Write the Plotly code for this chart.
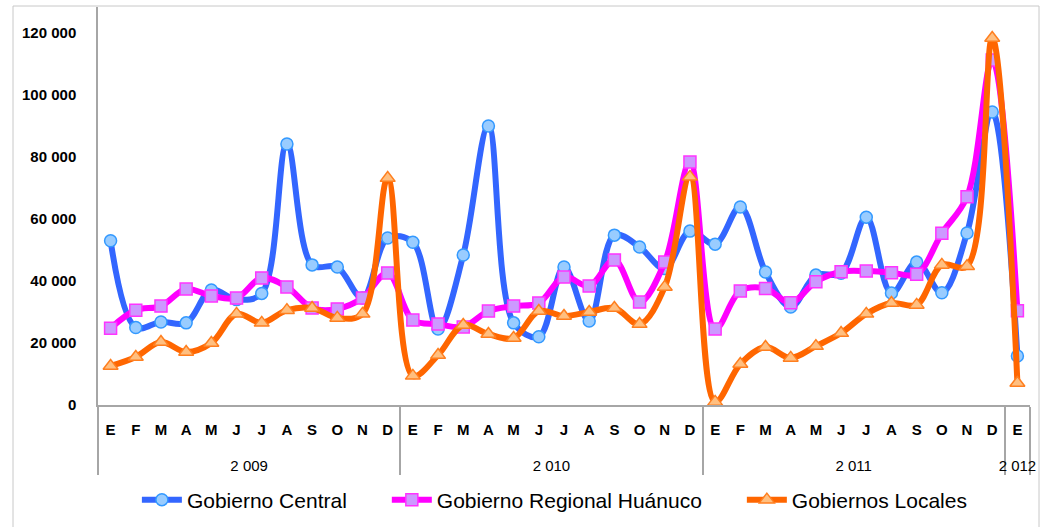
import plotly.graph_objects as go

years = ["2 009"] * 12 + ["2 010"] * 12 + ["2 011"] * 12 + ["2 012"]
months = ["E", "F", "M", "A", "M", "J", "J", "A", "S", "O", "N", "D",
          "E", "F", "M", "A", "M", "J", "J", "A", "S", "O", "N", "D",
          "E", "F", "M", "A", "M", "J", "J", "A", "S", "O", "N", "D",
          "E"]

gobierno_central = [53000, 25000, 26800, 26500, 37100, 34000, 36000, 84200, 45200, 44500, 34500, 53900,
                    52500, 24500, 48400, 90000, 26500, 22000, 44500, 27100, 54800, 51000, 44000, 56100,
                    51900, 63900, 42900, 31600, 41900, 42500, 60600, 36100, 46100, 36200, 55500, 94500,
                    15800]
gobierno_regional = [24800, 30600, 31900, 37400, 35200, 34500, 41000, 38100, 31300, 31000, 34500, 42600,
                     27400, 26100, 25200, 30300, 31900, 32900, 41300, 38400, 46800, 33200, 46100, 78400,
                     24500, 36800, 37600, 33000, 39800, 43000, 43200, 42700, 42200, 55400, 67200, 111300,
                     30400]
gobiernos_locales = [12600, 15500, 20300, 17100, 20000, 29400, 26500, 30600, 31300, 28100, 29400, 73200,
                     9400, 16100, 25800, 22900, 21600, 30300, 28700, 30000, 31300, 26100, 38100, 73600,
                     1000, 13200, 18700, 15200, 19000, 23200, 29400, 32900, 32300, 45200, 44800, 118400,
                     7100]

W, H = 1047, 527
ML, MR, MT, MB = 98, 17, 7, 122
YMAX = 128400

# make repeated month letters unique within a year (zero-width spaces, invisible)
month_keys = []
seen = {}
for yv, m in zip(years, months):
    k = seen.get((yv, m), 0)
    seen[(yv, m)] = k + 1
    month_keys.append('<span style="font-size:15px"><b>%s</b></span>%s' % (m, "\u200b" * k))
year_keys = ['<br><span style="font-size:15px">%s</span>' % yv for yv in years]
x = [year_keys, month_keys]

series = [
    ("Gobierno Central", gobierno_central, "#3366FF", "#99CCFF", "#3399FF", "circle", 12),
    ("Gobierno Regional Huánuco", gobierno_regional, "#FF00FF", "#CC99FF", "#FF33FF", "square", 12),
    ("Gobiernos Locales", gobiernos_locales, "#FF6600", "#FFBF80", "#FF7F1F", "triangle-up", 13),
]

pad = "\u00a0" * 6
fig = go.Figure()
for name, vals, lc, fc, oc, sym, sz in series:
    fig.add_trace(go.Scatter(
        x=x, y=vals, name=name + pad, mode="lines+markers",
        line=dict(color=lc, width=6, shape="spline", smoothing=1.0),
        marker=dict(symbol=sym, size=sz, color=fc, line=dict(color=oc, width=1.5)),
        cliponaxis=False,
    ))

pw = W - ML - MR
ph = H - MT - MB
fig.add_shape(type="rect", xref="paper", yref="paper",
              x0=(13 - ML) / pw, x1=(1039 - ML) / pw,
              y0=(H - MB - 540) / ph, y1=(H - MB - 6) / ph,
              line=dict(color="#C8C8C8", width=1), fillcolor="rgba(0,0,0,0)", layer="below")

fig.update_layout(
    width=W, height=H,
    margin=dict(l=ML, r=MR, t=MT, b=MB, autoexpand=False),
    paper_bgcolor="white", plot_bgcolor="white",
    separators=", ",
    font=dict(family="Liberation Sans, Arial, sans-serif", color="black"),
    showlegend=True,
    legend=dict(orientation="h", x=0.509, xanchor="center", y=(H - MB - 500) / ph, yanchor="middle",
                font=dict(size=21, family="Liberation Sans, Arial, sans-serif", color="black"),
                itemwidth=40, bgcolor="rgba(0,0,0,0)"),
    xaxis=dict(type="multicategory", showline=True, linecolor="#A6A6A6", linewidth=1.5,
               showgrid=False, zeroline=False, ticks="", showdividers=True,
               dividercolor="#A6A6A6", dividerwidth=1.5, automargin=False,
               ticklabelstandoff=7,
               tickfont=dict(size=18, color="black"), range=[-0.5, 36.5]),
    yaxis=dict(range=[0, YMAX], tickvals=[0, 20000, 40000, 60000, 80000, 100000, 120000],
               tickformat=",d", showline=True, linecolor="#A6A6A6", linewidth=1.5,
               showgrid=False, zeroline=False, ticks="", automargin=False,
               ticklabelstandoff=17,
               tickfont=dict(size=15, color="black", weight="bold")),
)

fig.write_html("out.html", config={"displayModeBar": False},
               post_script="document.body.style.margin='0px';")
